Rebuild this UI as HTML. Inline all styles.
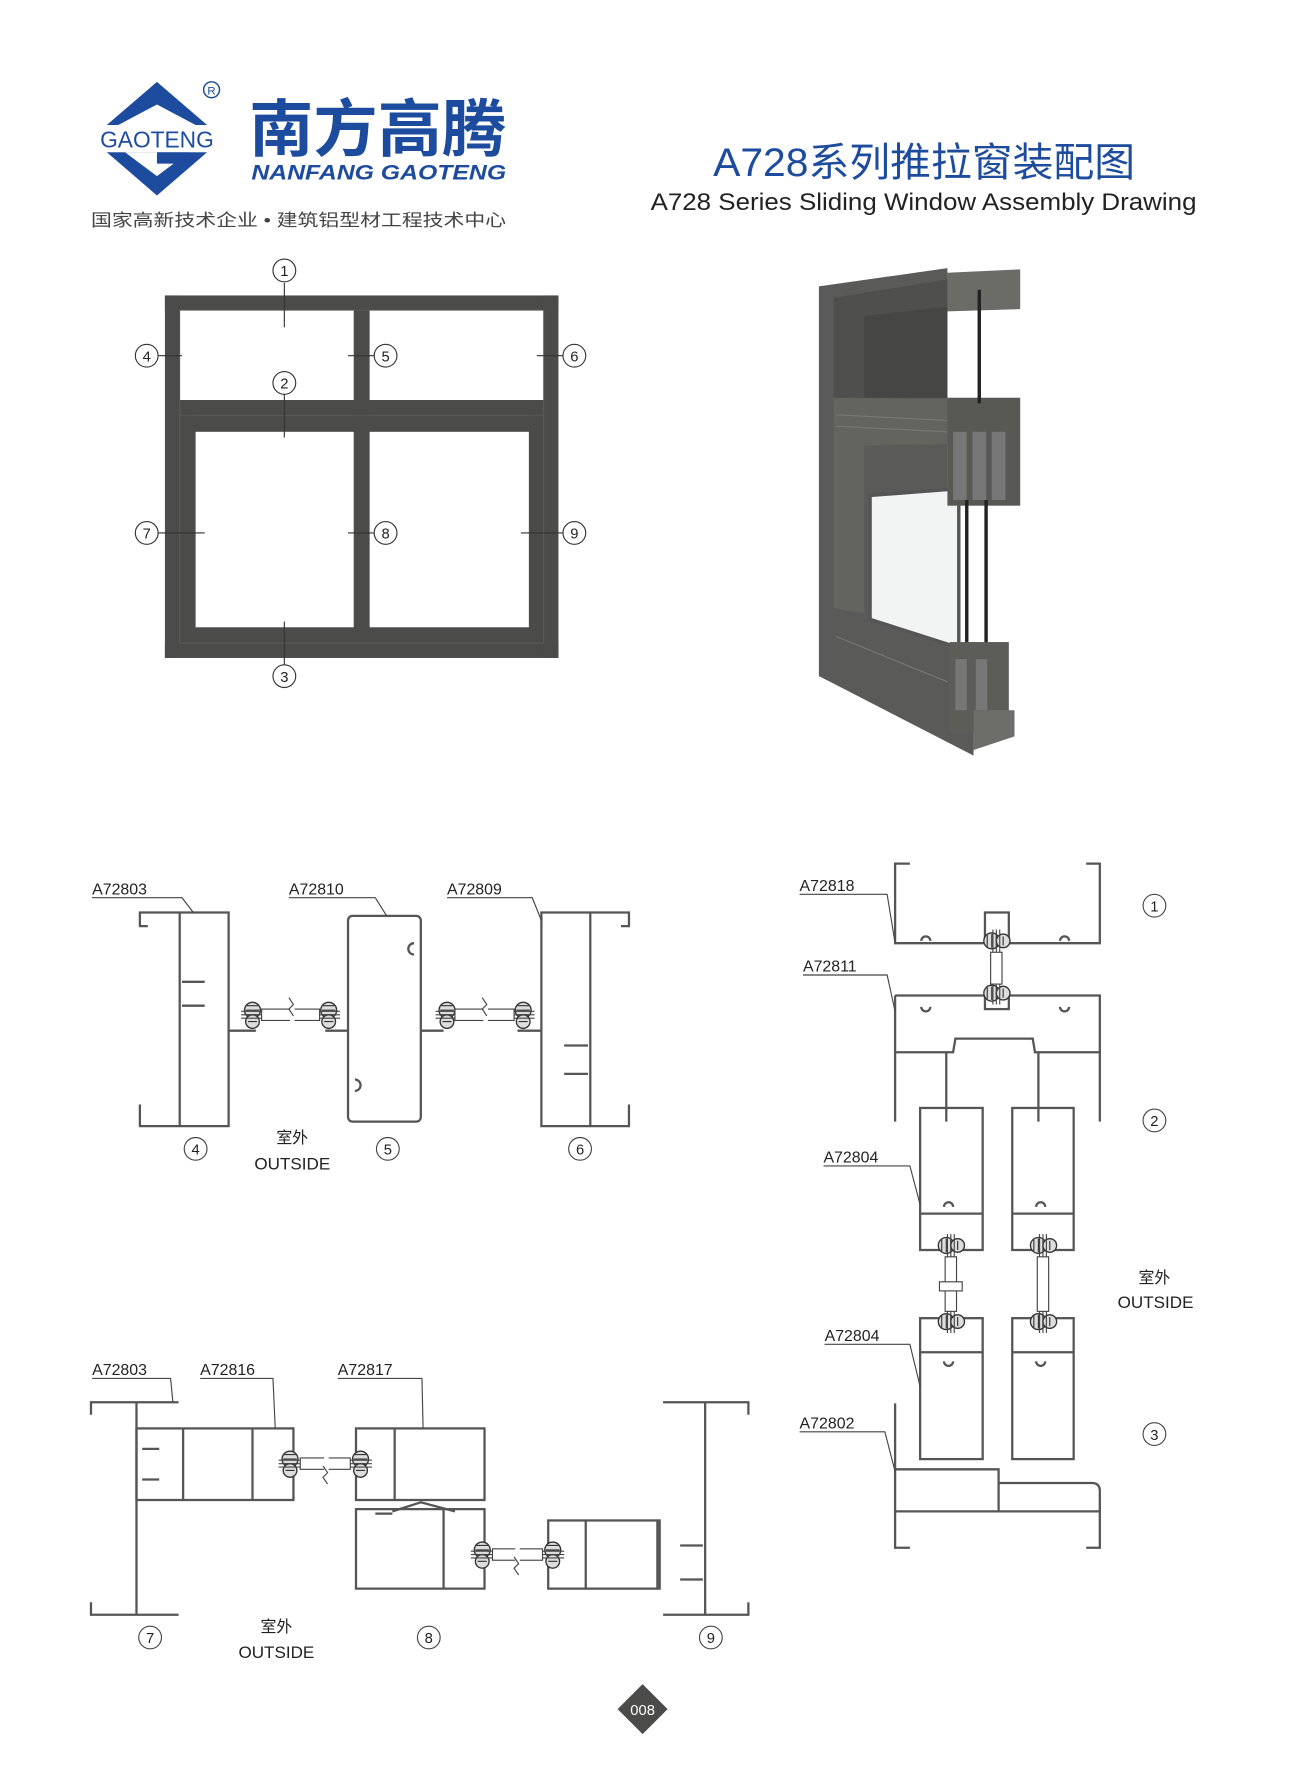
<!DOCTYPE html>
<html><head><meta charset="utf-8"><style>
html,body{margin:0;padding:0;background:#fff;}
svg{display:block;}
text{font-family:"Liberation Sans","Noto Sans CJK SC",sans-serif;}
</style></head><body>
<svg width="1300" height="1775" viewBox="0 0 1143 1562" preserveAspectRatio="none" xmlns="http://www.w3.org/2000/svg">
<defs>
<g id="gl">
 <circle cx="0" cy="-4" r="7" fill="#ddd" stroke="#333" stroke-width="1.2"/>
 <circle cx="0" cy="6" r="6" fill="#ddd" stroke="#333" stroke-width="1.2"/>
 <path d="M-5 -8 L5 -8 M-6 -4 L6 -4 M-5 0 L5 0 M-4 6 L4 6" stroke="#333" stroke-width="1"/>
 <line x1="-10" y1="-3" x2="10" y2="-3" stroke="#444" stroke-width="1"/>
 <line x1="-10" y1="0" x2="10" y2="0" stroke="#444" stroke-width="1"/>
 <line x1="-10" y1="3" x2="10" y2="3" stroke="#444" stroke-width="1"/>
</g>
<g id="glv">
 <circle cx="-4" cy="0" r="7" fill="#ddd" stroke="#333" stroke-width="1.2"/>
 <circle cx="6" cy="0" r="6" fill="#ddd" stroke="#333" stroke-width="1.2"/>
 <path d="M-8 -5 L-8 5 M-4 -6 L-4 6 M0 -5 L0 5 M6 -4 L6 4" stroke="#333" stroke-width="1"/>
 <line x1="-3" y1="-10" x2="-3" y2="10" stroke="#444" stroke-width="1"/>
 <line x1="0" y1="-10" x2="0" y2="10" stroke="#444" stroke-width="1"/>
 <line x1="3" y1="-10" x2="3" y2="10" stroke="#444" stroke-width="1"/>
</g>
</defs>
<rect width="1143" height="1562" fill="#fff"/>

<!-- LOGO -->
<path d="M138 72 L196 122 L138 172 L80 122 Z" fill="#1d4b9e"/>
<rect x="80" y="110" width="116" height="24" fill="#fff"/>
<path d="M138 92 L172 110 L104 110 Z" fill="#fff"/>
<path d="M110 134 L166 134 L138 155 Z" fill="#fff"/>
<rect x="138" y="134" width="28" height="10" fill="#1d4b9e"/>
<text x="138" y="130" font-size="20" fill="#1d4b9e" text-anchor="middle">GAOTENG</text>
<circle cx="186" cy="79" r="7" fill="none" stroke="#1d4b9e" stroke-width="1.3"/>
<text x="186" y="83" font-size="10" fill="#1d4b9e" text-anchor="middle">R</text>
<text x="219" y="133" font-size="55" font-weight="bold" fill="#1d4b9e" textLength="226" lengthAdjust="spacingAndGlyphs">南方高腾</text>
<text x="221" y="158" font-size="19" font-weight="bold" font-style="italic" fill="#1d4b9e" textLength="224" lengthAdjust="spacingAndGlyphs">NANFANG GAOTENG</text>
<text x="80" y="199" font-size="15" fill="#444" textLength="365" lengthAdjust="spacingAndGlyphs">国家高新技术企业 • 建筑铝型材工程技术中心</text>

<!-- TITLE -->
<text x="627" y="155" font-size="35" fill="#1d4b9e" textLength="371" lengthAdjust="spacingAndGlyphs">A728系列推拉窗装配图</text>
<text x="572" y="185" font-size="21" fill="#222" textLength="480" lengthAdjust="spacingAndGlyphs">A728 Series Sliding Window Assembly Drawing</text>

<!-- ELEVATION -->
<g fill="#4b4b49">
<rect x="145" y="260" width="346" height="13"/>
<rect x="145" y="566" width="346" height="13"/>
<rect x="145" y="260" width="13" height="319"/>
<rect x="478" y="260" width="13" height="319"/>
<rect x="158" y="352" width="320" height="14"/>
<rect x="311" y="273" width="14" height="80"/>
<rect x="158" y="366" width="14" height="200"/>
<rect x="465" y="366" width="13" height="200"/>
<rect x="311" y="366" width="14" height="200"/>
<rect x="158" y="366" width="320" height="14"/>
<rect x="158" y="552" width="320" height="14"/>
</g>
<g stroke="#5e5e5c" stroke-width="0.8">
<line x1="158" y1="273" x2="158" y2="566"/><line x1="478" y1="273" x2="478" y2="566"/>
<line x1="158" y1="566" x2="478" y2="566"/><line x1="158" y1="273" x2="478" y2="273"/>
</g>
<g stroke="#333" stroke-width="1" fill="#fff">
<line x1="250" y1="249" x2="250" y2="288"/>
<line x1="250" y1="347" x2="250" y2="385"/>
<line x1="250" y1="547" x2="250" y2="585"/>
<line x1="139" y1="313" x2="160" y2="313"/>
<line x1="306" y1="313" x2="329" y2="313"/>
<line x1="472" y1="313" x2="495" y2="313"/>
<line x1="139" y1="469" x2="180" y2="469"/>
<line x1="306" y1="469" x2="329" y2="469"/>
<line x1="458" y1="469" x2="495" y2="469"/>
<circle cx="250" cy="238" r="10"/><circle cx="129" cy="313" r="10"/><circle cx="339" cy="313" r="10"/><circle cx="505" cy="313" r="10"/>
<circle cx="250" cy="337" r="10"/><circle cx="129" cy="469" r="10"/><circle cx="339" cy="469" r="10"/><circle cx="505" cy="469" r="10"/>
<circle cx="250" cy="595" r="10"/>
</g>
<g font-size="13" fill="#222" text-anchor="middle">
<text x="250" y="243">1</text><text x="129" y="318">4</text><text x="339" y="318">5</text><text x="505" y="318">6</text>
<text x="250" y="342">2</text><text x="129" y="474">7</text><text x="339" y="474">8</text><text x="505" y="474">9</text>
<text x="250" y="600">3</text>
</g>

<!-- 3D RENDER -->
<g>
<polygon points="720,252 833,236 833,560 856,575 856,665 730,600 720,595" fill="#5a5b58"/>
<polygon points="733,262 833,246 833,350 733,350" fill="#4f504d"/>
<polygon points="760,278 833,270 833,350 760,350" fill="#464744"/>
<polygon points="733,350 895,352 895,390 760,392 760,540 733,535" fill="#63645f"/>
<polygon points="765,436 843,430 843,570 765,545" fill="#f2f3f3" stroke="#555" stroke-width="3"/>
<polygon points="833,240 897,237 897,272 833,274" fill="#6b6c68"/>
<rect x="833" y="350" width="64" height="95" fill="#585955"/>
<rect x="838" y="380" width="12" height="60" fill="#777"/><rect x="855" y="380" width="12" height="60" fill="#777"/><rect x="872" y="380" width="12" height="60" fill="#777"/>
<line x1="861" y1="255" x2="861" y2="355" stroke="#222" stroke-width="3"/>
<line x1="850" y1="440" x2="850" y2="575" stroke="#222" stroke-width="3"/>
<line x1="867" y1="440" x2="867" y2="575" stroke="#222" stroke-width="3"/>
<rect x="835" y="565" width="52" height="80" fill="#5c5d59"/>
<rect x="840" y="580" width="10" height="45" fill="#777"/><rect x="858" y="580" width="10" height="45" fill="#777"/>
<polygon points="856,625 892,625 892,648 856,660" fill="#6d6e6a"/>
<line x1="735" y1="365" x2="833" y2="370" stroke="#777" stroke-width="1"/>
<line x1="735" y1="375" x2="833" y2="380" stroke="#777" stroke-width="1"/>
<line x1="735" y1="560" x2="833" y2="600" stroke="#777" stroke-width="1"/>
</g>

<!-- SECTION 4/5/6 -->
<g fill="none" stroke="#555" stroke-width="2">
<path d="M130 815 L123 815 L123 803 L201 803 L201 991 L123 991 L123 972"/>
<line x1="158" y1="803" x2="158" y2="991"/>
<path d="M201 907 L225 907"/>
<path d="M160 864 L180 864 M160 885 L180 885"/>
<rect x="306" y="806" width="64" height="181" rx="4"/>
<path d="M364 830 a5 5 0 1 0 0 10 M312 950 a5 5 0 1 1 0 10"/>
<path d="M286 907 L306 907 M370 907 L390 907"/>
<path d="M546 815 L553 815 L553 803 L476 803 L476 991 L553 991 L553 972"/>
<line x1="519" y1="803" x2="519" y2="991"/>
<path d="M476 907 L455 907"/>
<path d="M496 920 L517 920 M496 945 L517 945"/>
</g>
<g>
<use href="#gl" x="222" y="893"/><use href="#gl" x="289" y="893"/>
<use href="#gl" x="393" y="893"/><use href="#gl" x="460" y="893"/>
<rect x="230" y="888" width="51" height="10" fill="#fff" stroke="#444"/>
<rect x="400" y="888" width="52" height="10" fill="#fff" stroke="#444"/>
<line x1="257" y1="880" x2="257" y2="905" stroke="#fff" stroke-width="4"/>
<line x1="427" y1="880" x2="427" y2="905" stroke="#fff" stroke-width="4"/>
<path d="M254 878 l4 6 l-4 4 l4 6" stroke="#444" fill="none"/>
<path d="M424 878 l4 6 l-4 4 l4 6" stroke="#444" fill="none"/>
</g>
<g fill="none" stroke="#444" stroke-width="1">
<path d="M81 790 L160 790 L170 803"/><path d="M254 790 L330 790 L340 806"/><path d="M393 790 L468 790 L476 810"/>
<circle cx="172" cy="1011" r="10" fill="#fff"/><circle cx="341" cy="1011" r="10" fill="#fff"/><circle cx="510" cy="1011" r="10" fill="#fff"/>
</g>
<g font-size="14" fill="#222">
<text x="81" y="787">A72803</text><text x="254" y="787">A72810</text><text x="393" y="787">A72809</text>
<text x="172" y="1016" text-anchor="middle" font-size="13">4</text><text x="341" y="1016" text-anchor="middle" font-size="13">5</text><text x="510" y="1016" text-anchor="middle" font-size="13">6</text>
<text x="257" y="1006" text-anchor="middle">室外</text><text x="257" y="1029" text-anchor="middle" font-size="15">OUTSIDE</text>
</g>

<!-- SECTION 7/8/9 -->
<g fill="none" stroke="#555" stroke-width="2">
<path d="M80 1245 L80 1234 L157 1234 M80 1410 L80 1421 L157 1421"/>
<line x1="120" y1="1234" x2="120" y2="1421"/>
<rect x="120" y="1257" width="138" height="63"/>
<line x1="161" y1="1257" x2="161" y2="1320"/><line x1="222" y1="1257" x2="222" y2="1320"/>
<path d="M125 1275 L140 1275 M125 1302 L140 1302"/>
<rect x="313" y="1257" width="113" height="63"/>
<line x1="347" y1="1257" x2="347" y2="1320"/>
<path d="M313 1328 L426 1328 L426 1398 L313 1398 Z"/>
<line x1="390" y1="1328" x2="390" y2="1398"/>
<path d="M345 1330 L370 1322 L400 1330 M330 1332 L345 1332"/>
<rect x="482" y="1338" width="98" height="60"/>
<line x1="515" y1="1338" x2="515" y2="1398"/><line x1="578" y1="1338" x2="578" y2="1398"/>
<path d="M658 1245 L658 1234 L583 1234 M658 1410 L658 1421 L583 1421"/>
<line x1="620" y1="1234" x2="620" y2="1421"/>
<path d="M598 1360 L618 1360 M598 1390 L618 1390"/>
</g>
<g>
<use href="#gl" x="255" y="1288"/><use href="#gl" x="317" y="1288"/>
<rect x="264" y="1283" width="44" height="10" fill="#fff" stroke="#444"/>
<use href="#gl" x="424" y="1368"/><use href="#gl" x="486" y="1368"/>
<rect x="433" y="1363" width="44" height="10" fill="#fff" stroke="#444"/>
<line x1="287" y1="1275" x2="287" y2="1300" stroke="#fff" stroke-width="4"/>
<line x1="455" y1="1355" x2="455" y2="1380" stroke="#fff" stroke-width="4"/>
<path d="M284 1290 l4 6 l-4 4 l4 6" stroke="#444" fill="none"/>
<path d="M452 1370 l4 6 l-4 4 l4 6" stroke="#444" fill="none"/>
</g>
<g fill="none" stroke="#444" stroke-width="1">
<path d="M81 1213 L150 1213 L152 1234"/><path d="M176 1213 L240 1213 L242 1257"/><path d="M297 1213 L371 1213 L372 1257"/>
<circle cx="132" cy="1441" r="10" fill="#fff"/><circle cx="377" cy="1441" r="10" fill="#fff"/><circle cx="625" cy="1441" r="10" fill="#fff"/>
</g>
<g font-size="14" fill="#222">
<text x="81" y="1210">A72803</text><text x="176" y="1210">A72816</text><text x="297" y="1210">A72817</text>
<text x="132" y="1446" text-anchor="middle" font-size="13">7</text><text x="377" y="1446" text-anchor="middle" font-size="13">8</text><text x="625" y="1446" text-anchor="middle" font-size="13">9</text>
<text x="243" y="1436" text-anchor="middle">室外</text><text x="243" y="1459" text-anchor="middle" font-size="15">OUTSIDE</text>
</g>

<!-- RIGHT VERTICAL SECTION -->
<g fill="none" stroke="#555" stroke-width="2">
<path d="M800 760 L787 760 L787 830 L967 830 L967 760 L955 760"/>
<rect x="866" y="803" width="21" height="27"/>
<path d="M787 876 L967 876 L967 987 M787 876 L787 987"/>
<path d="M787 926 L838 926 L840 914 L908 914 L910 926 L967 926"/>
<line x1="832" y1="926" x2="832" y2="987"/><line x1="913" y1="926" x2="913" y2="987"/>
<rect x="866" y="876" width="21" height="12"/>
<rect x="809" y="975" width="55" height="125"/>
<line x1="809" y1="1068" x2="864" y2="1068"/>
<rect x="890" y="975" width="54" height="125"/>
<line x1="890" y1="1068" x2="944" y2="1068"/>
<rect x="809" y="1160" width="55" height="124"/>
<line x1="809" y1="1190" x2="864" y2="1190"/>
<rect x="890" y="1160" width="54" height="124"/>
<line x1="890" y1="1190" x2="944" y2="1190"/>
<path d="M787 1235 L787 1362 L800 1362 M787 1293 L878 1293 L878 1330 M878 1305 L960 1305 Q967 1305 967 1312 L967 1362 L955 1362"/>
<line x1="787" y1="1330" x2="967" y2="1330"/>
<path d="M810 828 a4 4 0 0 1 8 0 M932 828 a4 4 0 0 1 8 0 M810 886 a4 4 0 0 0 8 0 M932 886 a4 4 0 0 0 8 0"/>
<path d="M830 1062 a4 4 0 0 1 8 0 M911 1062 a4 4 0 0 1 8 0 M830 1198 a4 4 0 0 0 8 0 M911 1198 a4 4 0 0 0 8 0"/>
</g>
<g>
<use href="#glv" x="876" y="828"/><use href="#glv" x="876" y="874"/>
<rect x="871" y="838" width="10" height="28" fill="#fff" stroke="#444"/>
<use href="#glv" x="836" y="1096"/><use href="#glv" x="836" y="1163"/>
<rect x="831" y="1106" width="10" height="48" fill="#fff" stroke="#444"/>
<use href="#glv" x="917" y="1096"/><use href="#glv" x="917" y="1163"/>
<rect x="912" y="1106" width="10" height="48" fill="#fff" stroke="#444"/>
<rect x="826" y="1128" width="20" height="8" fill="#fff" stroke="#444"/>
</g>
<g fill="none" stroke="#444" stroke-width="1">
<path d="M703 787 L780 787 L787 830"/><path d="M706 858 L780 858 L787 890"/>
<path d="M724 1026 L800 1026 L809 1060"/><path d="M725 1183 L800 1183 L809 1220"/><path d="M703 1260 L778 1260 L787 1295"/>
<circle cx="1015" cy="797" r="10" fill="#fff"/><circle cx="1015" cy="986" r="10" fill="#fff"/><circle cx="1015" cy="1262" r="10" fill="#fff"/>
</g>
<g font-size="14" fill="#222">
<text x="703" y="784">A72818</text><text x="706" y="855">A72811</text><text x="724" y="1023">A72804</text><text x="725" y="1180">A72804</text><text x="703" y="1257">A72802</text>
<text x="1015" y="802" text-anchor="middle" font-size="13">1</text><text x="1015" y="991" text-anchor="middle" font-size="13">2</text><text x="1015" y="1267" text-anchor="middle" font-size="13">3</text>
<text x="1015" y="1129" text-anchor="middle">室外</text><text x="1016" y="1151" text-anchor="middle" font-size="15">OUTSIDE</text>
</g>

<!-- PAGE NUMBER -->
<path d="M565 1482 L587 1504 L565 1526 L543 1504 Z" fill="#4b4b49"/>
<text x="565" y="1509" font-size="13" fill="#fff" text-anchor="middle">008</text>
</svg>
</body></html>
